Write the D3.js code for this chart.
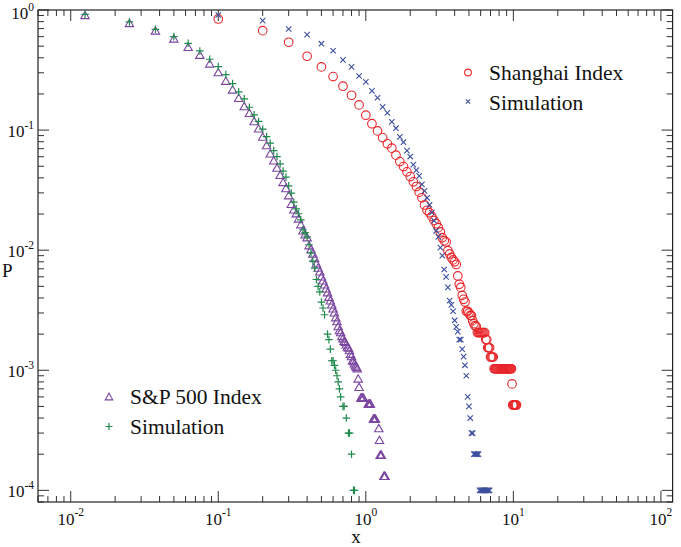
<!DOCTYPE html>
<html><head><meta charset="utf-8">
<script src="https://cdn.jsdelivr.net/npm/d3@7"></script>
<style>body{margin:0;background:#fff}svg{display:block}text{font-family:"Liberation Serif","Times New Roman",serif;fill:#111}</style>
</head><body>
<svg id="c" width="681" height="547"></svg>
<script>
// ---- data ----
const shanghaiX = [0.1,0.2,0.3,0.4,0.5,0.6,0.7,0.8,0.9,1.0,1.1,1.2,1.3,1.4,1.5,1.6,1.7,1.8,1.9,2.0,
  2.1,2.2,2.3,2.4,2.5,2.6,2.7,2.8,2.9,3.0,3.1,3.2,3.3,3.4,3.5,3.6,3.7,3.8,3.9,4.0,
  4.1,4.2,4.3,4.4,4.5,4.6,4.7,4.8,4.9,5.0,5.1,5.2,5.3,5.4,5.5,5.6,5.7,5.8,5.9,6.0,
  6.1,6.2,6.3,6.4,6.5,6.6,6.7,6.8,6.9,7.0,7.1,7.2,7.3,7.4,7.5,7.6,7.7,7.8,7.9,8.0,
  8.1,8.2,8.3,8.4,8.5,8.6,8.7,8.8,8.9,9.0,9.1,9.2,9.3,9.4,9.5,9.6,9.7,9.8,9.9,10.0,
  10.1,10.2,10.3,10.4,10.5];
const shanghaiP = [0.842,0.673,0.539,0.412,0.336,0.279,0.232,0.195,0.162,0.133,
  0.113,0.0985,0.0866,0.0768,0.0707,0.0618,0.0547,0.0497,0.0449,0.0410,
  0.0371,0.0339,0.0304,0.0273,0.0238,0.0215,0.0205,0.0191,0.0177,0.0166,
  0.0154,0.0142,0.0127,0.0120,0.0117,0.0099,0.0093,0.0087,0.0083,0.0080,
  0.0076,0.0061,0.0052,0.0049,0.0042,0.0039,0.0037,0.0031,0.0031,0.0030,
  0.00286,0.00285,0.00259,0.00244,0.00235,0.00232,0.00206,0.00206,0.00206,0.00206,
  0.00206,0.00206,0.00206,0.00206,0.0018,0.0018,0.00154,0.00154,0.00154,0.00129,
  0.00129,0.00129,0.00129,0.00103,0.00103,0.00103,0.00103,0.00103,0.00103,0.00103,
  0.00103,0.00103,0.00103,0.00103,0.00103,0.00103,0.00103,0.00103,0.00103,0.00103,
  0.00103,0.00103,0.00103,0.00103,0.00103,0.00103,0.00103,0.00077,0.000514,0.000514,
  0.000514,0.000514,0.000514,0.000514,0.000514];

const shSimX = [0.1,0.2,0.3,0.4,0.5,0.6,0.7,0.8,0.9,1.0,1.1,1.2,1.3,1.4,1.5,1.6,1.7,1.8,1.9,2.0,
  2.1,2.2,2.3,2.4,2.5,2.6,2.7,2.8,2.9,3.0,3.1,3.2,3.3,3.4,3.5,3.6,3.7,3.8,3.9,4.0,
  4.1,4.2,4.3,4.4,4.5,4.6,4.7,4.8,4.9,5.0,5.1,5.2,5.3,5.4,5.5,5.6,5.7,5.8,5.9,6.0,
  6.1,6.2,6.3,6.4,6.5,6.6,6.7,6.8,6.9];
const shSimP = [0.909,0.815,0.695,0.623,0.524,0.458,0.384,0.336,0.282,0.252,
  0.212,0.186,0.156,0.139,0.117,0.1037,0.0878,0.0793,0.0675,0.0602,
  0.0516,0.0464,0.0416,0.0353,0.0312,0.0273,0.0238,0.0206,0.0176,0.0145,
  0.0129,0.0105,0.0090,0.0069,0.0060,0.0049,0.0038,0.0035,0.0031,0.0026,
  0.0023,0.0021,0.0018,0.0018,0.0015,0.0013,0.0011,0.0009,0.0006,0.0005,
  0.0004,0.0003,0.0003,0.0002,0.0002,0.0002,0.0002,0.0002,0.0001,0.0001,
  0.0001,0.0001,0.0001,0.0001,0.0001,0.0001,0.0001,0.0001,0.0001];

const spX = [0.0125,0.025,0.0375,0.05,0.0625,0.075,0.0875,0.1,0.1125,0.125,
  0.1375,0.15,0.1625,0.175,0.1875,0.2,0.2125,0.225,0.2375,0.25,
  0.2625,0.275,0.2875,0.3,0.3125,0.325,0.3375,0.35,0.3625,0.375,
  0.3875,0.4,0.4125,0.425,0.4375,0.45,0.4625,0.475,0.4875,0.5,
  0.5125,0.525,0.5375,0.55,0.5625,0.575,0.5875,0.6,0.6125,0.625,
  0.6375,0.65,0.6625,0.675,0.6875,0.7,0.7125,0.725,0.7375,0.75,
  0.7625,0.775,0.7875,0.8,0.8125,0.825,0.8375,0.85,0.8625,0.875,
  0.8875,0.9,0.925,0.9375,0.95,0.9625,1.0375,1.05,1.0625,1.075,
  1.125,1.1375,1.15,1.1625,1.225,1.2375,1.25,1.2625,1.275,1.325,1.3375,1.35];
const spP = [0.900,0.772,0.669,0.574,0.488,0.420,0.355,0.301,0.255,0.216,
  0.184,0.157,0.138,0.1177,0.1023,0.0873,0.0743,0.0634,0.0554,0.0482,
  0.0420,0.0366,0.0326,0.0284,0.0241,0.0217,0.0201,0.0182,0.0163,0.0145,
  0.0134,0.0127,0.0109,0.0101,0.0093,0.0085,0.0077,0.0071,0.0066,0.0060,
  0.00556,0.00515,0.00477,0.00442,0.00406,0.00379,0.00351,0.00325,0.00301,0.00274,
  0.00254,0.00231,0.00214,0.00206,0.00191,0.00183,0.00174,0.00171,0.00163,0.00156,
  0.00153,0.00146,0.00136,0.00130,0.00120,0.00118,0.00113,0.00109,0.00106,0.00103,
  0.000847,0.000721,0.000588,0.000588,0.000588,0.000588,0.000524,0.000524,0.000524,0.000524,
  0.000393,0.000393,0.000393,0.000393,0.000327,0.000261,0.000196,0.000196,0.000196,
  0.000131,0.000131,0.000131];

const spSimX = [0.0125,0.025,0.0375,0.05,0.0625,0.075,0.0875,0.1,0.1125,0.125,
  0.1375,0.15,0.1625,0.175,0.1875,0.2,0.2125,0.225,0.2375,0.25,
  0.2625,0.275,0.2875,0.3,0.3125,0.325,0.3375,0.35,0.3625,0.375,
  0.3875,0.4,0.4125,0.425,0.4375,0.45,0.4625,0.475,0.4875,0.5,
  0.5125,0.525,0.55,0.5625,0.575,0.5875,0.6,0.6125,0.625,0.6375,
  0.65,0.6625,0.675,0.7,0.7125,0.7375,0.7625,0.775,0.8,0.825,0.8375];
const spSimP = [0.918,0.795,0.691,0.600,0.528,0.456,0.389,0.338,0.290,0.244,
  0.208,0.182,0.155,0.134,0.118,0.1017,0.0883,0.0778,0.0675,0.0602,
  0.0523,0.0455,0.0406,0.0343,0.0299,0.0251,0.0221,0.0201,0.0179,0.0148,
  0.0140,0.0129,0.0111,0.0095,0.0081,0.0071,0.0057,0.0050,0.0045,0.0037,
  0.0033,0.0029,0.0020,0.0018,0.0015,0.0012,0.0012,0.0011,0.0010,0.0009,
  0.0008,0.0007,0.0006,0.0005,0.0005,0.0004,0.0003,0.0003,0.0002,0.0001,0.0001];

const xTickExps = [-2,-1,0,1,2];
const yTickExps = [0,-1,-2,-3,-4];
const legendTop = ["Shanghai Index","Simulation"];
const legendBottom = ["S&P 500 Index","Simulation"];

// ---- drawing ----
const svg = d3.select("#c");
const L = 38, R = 672.6, T = 10, B = 502;
const x = d3.scaleLog().domain([0.006,120]).range([L,R]);
const y = d3.scaleLog().domain([8e-5,1]).range([B,T]);

const col = {red:"#e8262a", blue:"#3d4f9f", purple:"#7b45a0", green:"#1f8a4c"};

function logTicks(lo, hi){
  const out=[];
  for(let e=Math.floor(Math.log10(lo)); e<=Math.ceil(Math.log10(hi)); e++){
    for(let m=1;m<=9;m++){
      const v = m*Math.pow(10,e);
      if(v>=lo*0.9999 && v<=hi*1.0001) out.push({v, major:m===1});
    }
  }
  return out;
}
const tg = svg.append("g").attr("stroke","#333").attr("stroke-width",1);
logTicks(0.006,120).forEach(t=>{
  const px = x(t.v), len = t.major?11:6;
  tg.append("line").attr("x1",px).attr("x2",px).attr("y1",B).attr("y2",B-len);
  tg.append("line").attr("x1",px).attr("x2",px).attr("y1",T).attr("y2",T+len);
});
logTicks(8e-5,1).forEach(t=>{
  const py = y(t.v), len = t.major?11:6;
  tg.append("line").attr("x1",L).attr("x2",L+len).attr("y1",py).attr("y2",py);
  tg.append("line").attr("x1",R).attr("x2",R-len).attr("y1",py).attr("y2",py);
});
svg.append("rect").attr("x",L).attr("y",T).attr("width",R-L).attr("height",B-T)
  .attr("fill","none").attr("stroke","#222").attr("stroke-width",1.2);

// tick labels
xTickExps.forEach(e=>{
  const t = svg.append("text").attr("x",x(Math.pow(10,e))).attr("y",525)
    .attr("text-anchor","middle").attr("font-size",17);
  t.append("tspan").text("10");
  t.append("tspan").attr("dy",-9).attr("font-size",11.5).text(String(e));
});
yTickExps.forEach(e=>{
  const t = svg.append("text").attr("x",34).attr("y",y(Math.pow(10,e))+(e===0?9:7))
    .attr("text-anchor","end").attr("font-size",17);
  t.append("tspan").text("10");
  t.append("tspan").attr("dy",-8).attr("font-size",11.5).text(String(e));
});
svg.append("text").attr("x",356).attr("y",543).attr("text-anchor","middle").attr("font-size",19).text("x");
svg.append("text").attr("x",2).attr("y",277).attr("font-size",19).text("P");

// markers
const sym = {
  circle:(g,cx,cy,c,s)=>g.append("circle").attr("cx",cx).attr("cy",cy).attr("r",4.3*s).attr("fill","none").attr("stroke",c).attr("stroke-width",1.1),
  cross:(g,cx,cy,c,s)=>{const a=2.7*s; g.append("path").attr("d",`M${cx-a},${cy-a}L${cx+a},${cy+a}M${cx-a},${cy+a}L${cx+a},${cy-a}`).attr("stroke",c).attr("stroke-width",1.1).attr("fill","none");},
  tri:(g,cx,cy,c,s)=>{const a=4.2*s; g.append("path").attr("d",`M${cx},${cy-a}L${cx+a},${cy+a*0.75}L${cx-a},${cy+a*0.75}Z`).attr("stroke",c).attr("stroke-width",1.1).attr("fill","none");},
  plus:(g,cx,cy,c,s)=>{const a=3.8*s; g.append("path").attr("d",`M${cx-a},${cy}L${cx+a},${cy}M${cx},${cy-a}L${cx},${cy+a}`).attr("stroke",c).attr("stroke-width",1.2).attr("fill","none");}
};
function series(xs, ps, kind, c){
  const g = svg.append("g");
  xs.forEach((v,i)=>sym[kind](g, x(v), y(ps[i]), c, 1));
}
series(spX, spP, "tri", col.purple);
series(spSimX, spSimP, "plus", col.green);
series(shanghaiX, shanghaiP, "circle", col.red);
series(shSimX, shSimP, "cross", col.blue);

// legends
const lg = svg.append("g");
sym.circle(lg, 468, 72.5, col.red, 0.78);
sym.cross(lg, 468, 101.5, col.blue, 0.8);
lg.append("text").attr("x",489).attr("y",80).attr("font-size",21.5).text(legendTop[0]);
lg.append("text").attr("x",489).attr("y",110).attr("font-size",21.5).text(legendTop[1]);
sym.tri(lg, 109, 397, col.purple, 0.9);
sym.plus(lg, 109, 426.5, col.green, 0.9);
lg.append("text").attr("x",130).attr("y",404).attr("font-size",21.5).text(legendBottom[0]);
lg.append("text").attr("x",130).attr("y",434).attr("font-size",21.5).text(legendBottom[1]);
</script>
</body></html>
